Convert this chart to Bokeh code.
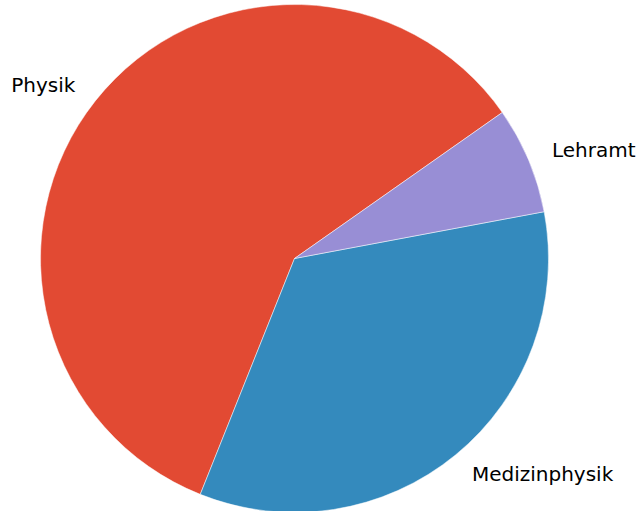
import math
from bokeh.plotting import figure
from bokeh.models import Range1d, ColumnDataSource
from bokeh.core.properties import value
from bokeh.embed import file_html
from bokeh.resources import INLINE

labels = ["Physik", "Medizinphysik", "Lehramt"]
values = [59.2, 34.0, 6.8]
colors = ["#E24A33", "#348ABD", "#988ED5"]
start_deg = 35.1

W, H = 642, 511
cx, cy, r = 294, H - 258, 254

total = sum(values)
starts, ends, lx, ly, aligns = [], [], [], [], []
a = math.radians(start_deg)
for v in values:
    span = 2 * math.pi * v / total
    starts.append(a)
    ends.append(a + span)
    mid = a + span / 2
    lx.append(cx + 1.1 * r * math.cos(mid))
    ly.append(cy + 1.1 * r * math.sin(mid))
    aligns.append("left" if math.cos(mid) >= 0 else "right")
    a += span

src = ColumnDataSource(dict(start=starts, end=ends, color=colors, label=labels,
                            lx=lx, ly=ly, align=aligns))

p = figure(width=W, height=H, output_backend="svg", toolbar_location=None,
           x_range=Range1d(0, W), y_range=Range1d(0, H), min_border=0)
p.axis.visible = False
p.grid.visible = False
p.outline_line_color = None
p.background_fill_color = "white"

p.wedge(x=cx, y=cy, radius=r, start_angle="start", end_angle="end",
        fill_color="color", line_color="white", line_width=0.5, source=src)
p.text(x="lx", y="ly", text="label", text_align="align", text_baseline="middle",
       text_font=value("DejaVu Sans"), text_font_size="20px", text_color="black", source=src)

open("out.html", "w").write(file_html(p, INLINE))
